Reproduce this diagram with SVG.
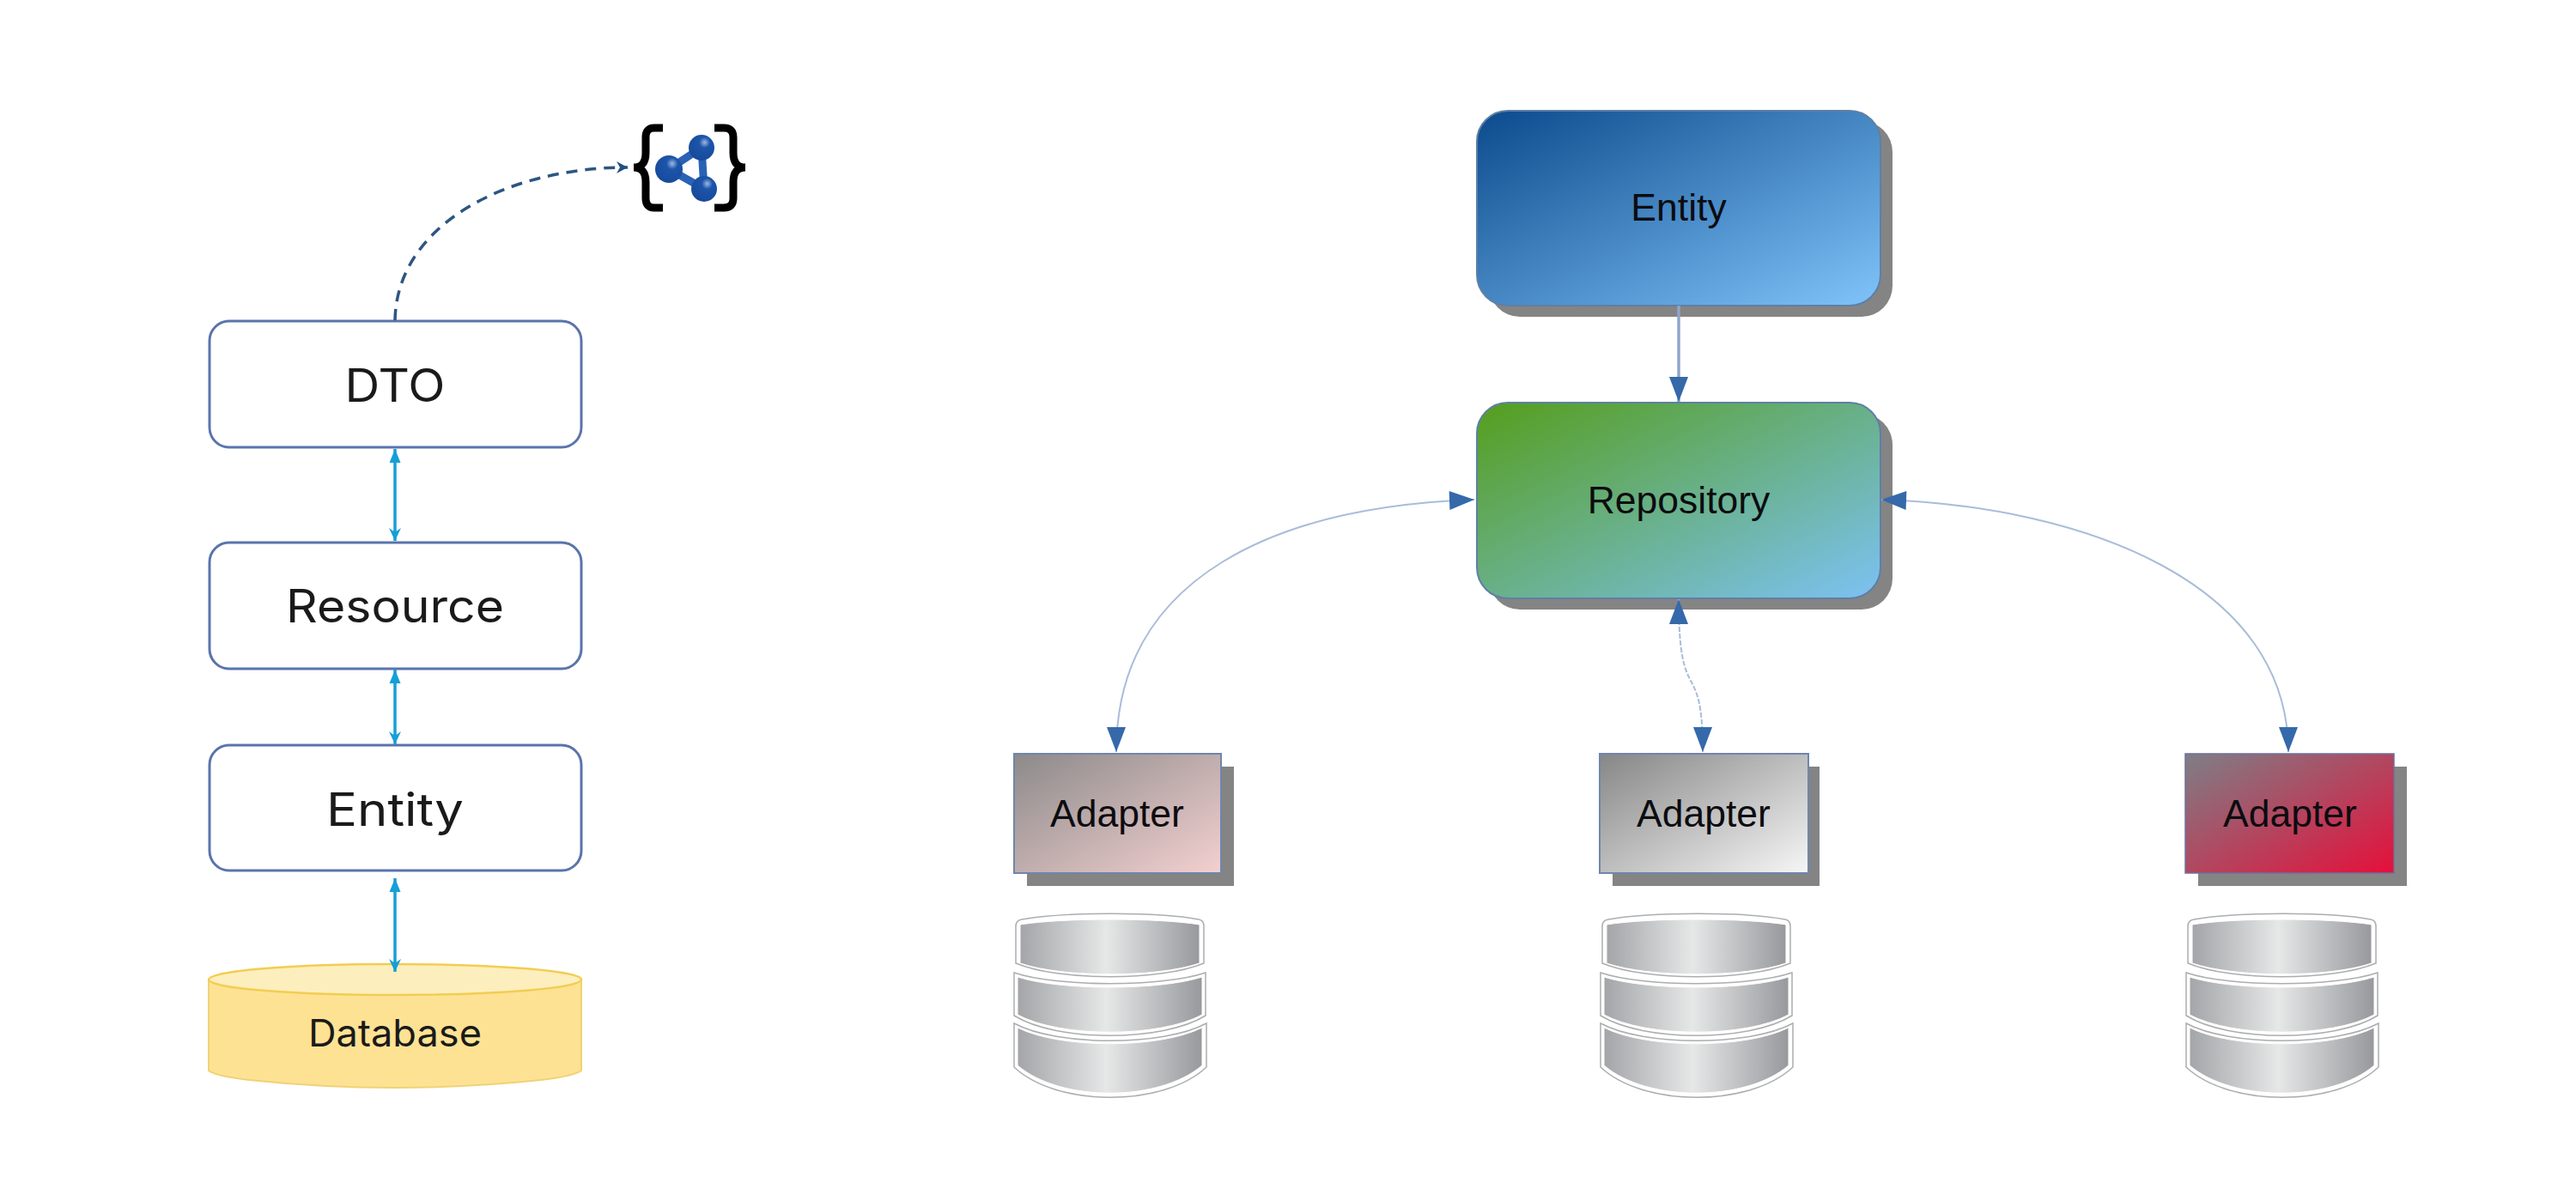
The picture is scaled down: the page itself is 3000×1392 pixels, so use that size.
<svg xmlns="http://www.w3.org/2000/svg" xmlns:xlink="http://www.w3.org/1999/xlink" width="3000" height="1392" viewBox="0 0 3000 1392">
<style>
.lb{fill:#fff;stroke:#5a74ab;stroke-width:3}
.lt{font-family:"Inter","Liberation Sans",sans-serif;font-weight:400;fill:#1a1a1a;text-anchor:middle}
.rt{font-family:"Liberation Sans",Arial,sans-serif;font-size:44.5px;fill:#0c0c10;text-anchor:middle}
.sh{fill:#848484}
.bs{stroke:#5f7fa5;stroke-width:2}
.cy{fill:none;stroke:#169fd6;stroke-width:3.5}
.bl{fill:none;stroke:#a9bdd8;stroke-width:2}
.bt{fill:none;stroke:#8fa6c9;stroke-width:3.5}
.mo{fill:#fff;stroke:#adadad;stroke-width:1.5}
.mi{stroke:#fff;stroke-width:1}
</style>
<defs>
<linearGradient id="gE" x1="0" y1="0" x2="1" y2="1"><stop offset="0" stop-color="#0b4a8c"/><stop offset="1" stop-color="#80c4fa"/></linearGradient>
<linearGradient id="gR" x1="0" y1="0" x2="1" y2="1"><stop offset="0" stop-color="#559e1c"/><stop offset="1" stop-color="#7cc2f4"/></linearGradient>
<linearGradient id="gA1" x1="0" y1="0" x2="1" y2="1"><stop offset="0" stop-color="#8c8a8a"/><stop offset="1" stop-color="#f4d0d0"/></linearGradient>
<linearGradient id="gA2" x1="0" y1="0" x2="1" y2="1"><stop offset="0" stop-color="#868686"/><stop offset="1" stop-color="#f6f6f6"/></linearGradient>
<linearGradient id="gA3" x1="0" y1="0" x2="1" y2="1"><stop offset="0" stop-color="#7d7f86"/><stop offset="1" stop-color="#e60f3a"/></linearGradient>
<linearGradient id="gD" x1="0" y1="0" x2="1" y2="0"><stop offset="0" stop-color="#a4a5a8"/><stop offset="0.48" stop-color="#e6e7e7"/><stop offset="1" stop-color="#98999d"/></linearGradient>
<radialGradient id="gB" cx="0.62" cy="0.3" r="0.7"><stop offset="0" stop-color="#9db8e2"/><stop offset="0.3" stop-color="#1c55aa"/><stop offset="1" stop-color="#174a9c"/></radialGradient>
<marker id="cS" markerUnits="userSpaceOnUse" markerWidth="20" markerHeight="16" refX="19" refY="8" orient="auto-start-reverse" viewBox="0 0 20 16"><path d="M19 8 L3 1.5 L3 14.5 Z" fill="#169fd6"/></marker>
<marker id="cE" markerUnits="userSpaceOnUse" markerWidth="20" markerHeight="16" refX="19" refY="8" orient="auto" viewBox="0 0 20 16"><path d="M19 8 L4 1 L9 8 L4 15 Z" fill="#169fd6"/></marker>
<marker id="bh" markerUnits="userSpaceOnUse" markerWidth="32" markerHeight="24" refX="30" refY="12" orient="auto-start-reverse" viewBox="0 0 32 24"><path d="M30 12 L1 1 L1 23 Z" fill="#3569aa"/></marker>
<marker id="da" markerUnits="userSpaceOnUse" markerWidth="18" markerHeight="18" refX="15" refY="9" orient="auto" viewBox="0 0 18 18"><path d="M2 2 L15 9 L2 16 L6 9 Z" fill="#24507f"/></marker>
<g id="stack">
<path class="mo" d="M1190 1071 C1240 1062 1350 1062 1396 1071 Q1402 1072 1402 1079 V1122 C1352 1143 1233 1143 1183 1122 V1079 Q1183 1072 1190 1071 Z"/>
<path class="mi" fill="url(#gD)" d="M1188 1077 C1238 1069 1347 1069 1397 1077 V1122 C1347 1139 1238 1139 1188 1122 Z"/>
<path class="mo" d="M1181 1133 C1231 1150 1354 1150 1404 1133 V1183 C1354 1214 1231 1214 1181 1183 Z"/>
<path class="mi" fill="url(#gD)" d="M1185 1138 C1235 1154 1350 1154 1400 1138 V1182 C1350 1209 1235 1209 1185 1182 Z"/>
<path class="mo" d="M1181 1192 C1231 1219 1355 1219 1405 1192 V1243 C1355 1290 1231 1290 1181 1243 Z"/>
<path class="mi" fill="url(#gD)" d="M1185 1197 C1235 1222 1350 1222 1400 1197 V1241 C1350 1284 1235 1284 1185 1241 Z"/>
</g>
</defs>
<rect width="3000" height="1392" fill="#fff"/>

<g id="dto"><rect class="lb" x="244" y="374" width="433" height="147" rx="23"/><text class="lt" x="460" y="468" font-size="53" textLength="117" lengthAdjust="spacingAndGlyphs">DTO</text></g>
<g id="resource"><rect class="lb" x="244" y="632" width="433" height="147" rx="23"/><text class="lt" x="460" y="725" font-size="53" textLength="254" lengthAdjust="spacingAndGlyphs">Resource</text></g>
<g id="entity-left"><rect class="lb" x="244" y="868" width="433" height="146" rx="23"/><text class="lt" x="460" y="962" font-size="53" textLength="160" lengthAdjust="spacingAndGlyphs">Entity</text></g>
<g id="database">
<path d="M243 1141 V1247 Q250 1253 290 1258 Q460 1276 630 1258 Q670 1253 677 1247 V1141 Z" fill="#fee294" stroke="#f0d277" stroke-width="2"/>
<ellipse cx="460" cy="1141" rx="217" ry="18" fill="#fdeebd" stroke="#f2cd52" stroke-width="2.5"/>
<text class="lt" x="460" y="1219" font-size="44" textLength="202" lengthAdjust="spacingAndGlyphs">Database</text>
</g>
<g id="graphql-icon">
<path d="M772 149 H762 Q752 149 752 160 V178 Q752 195 738 195 Q752 195 752 212 V231 Q752 242 762 242 H772" fill="none" stroke="#000" stroke-width="9"/>
<path d="M832 149 H843 Q854 149 854 160 V178 Q854 195 868 195 Q854 195 854 212 V231 Q854 242 843 242 H832" fill="none" stroke="#000" stroke-width="9"/>
<path d="M817 172 L779 197 L820 220 Z" fill="none" stroke="#2a62b5" stroke-width="9"/>
<circle cx="817" cy="172" r="15" fill="url(#gB)"/>
<circle cx="779" cy="197" r="16" fill="url(#gB)"/>
<circle cx="820" cy="220" r="15" fill="url(#gB)"/>
</g>

<g id="entity-right">
<rect class="sh" x="1734" y="141" width="470" height="228" rx="36"/>
<rect class="bs" x="1720" y="129" width="470" height="227" rx="36" fill="url(#gE)"/>
<text class="rt" x="1955" y="257">Entity</text>
</g>
<g id="repository">
<rect class="sh" x="1734" y="482" width="470" height="228" rx="36"/>
<rect class="bs" x="1720" y="469" width="470" height="228" rx="36" fill="url(#gR)"/>
<text class="rt" x="1955" y="598">Repository</text>
</g>
<g id="adapter-1">
<rect class="sh" x="1196" y="893" width="241" height="139"/>
<rect x="1181" y="878" width="241" height="139" fill="url(#gA1)" stroke="#6f86ab" stroke-width="2"/>
<text class="rt" x="1301" y="963">Adapter</text>
</g>
<g id="adapter-2">
<rect class="sh" x="1878" y="893" width="241" height="139"/>
<rect x="1863" y="878" width="243" height="139" fill="url(#gA2)" stroke="#6f86ab" stroke-width="2"/>
<text class="rt" x="1984" y="963">Adapter</text>
</g>
<g id="adapter-3">
<rect class="sh" x="2560" y="893" width="243" height="139"/>
<rect x="2545" y="878" width="243" height="139" fill="url(#gA3)" stroke="#6f6f9b" stroke-width="1.5"/>
<text class="rt" x="2667" y="963">Adapter</text>
</g>
<g id="db-1"><use xlink:href="#stack" href="#stack"/></g>
<g id="db-2"><use xlink:href="#stack" href="#stack" x="683"/></g>
<g id="db-3"><use xlink:href="#stack" href="#stack" x="1365"/></g>

<g id="connectors">
<path class="cy" d="M460 523 V630" marker-start="url(#cS)" marker-end="url(#cE)"/>
<path class="cy" d="M460 780 V867" marker-start="url(#cS)" marker-end="url(#cE)"/>
<path class="cy" d="M460 1023 V1132" marker-start="url(#cS)" marker-end="url(#cE)"/>
<path d="M460 373 C462 262 590 195 731 195" fill="none" stroke="#2d5680" stroke-width="3.5" stroke-dasharray="13 9" marker-end="url(#da)"/>
<path class="bt" d="M1955 356 V468" marker-end="url(#bh)"/>
<path class="bl" d="M1717 582 C1490 590 1300 670 1300 876" marker-start="url(#bh)" marker-end="url(#bh)"/>
<path class="bl" d="M2191 582 C2430 590 2665 680 2665 876" marker-start="url(#bh)" marker-end="url(#bh)"/>
<path class="bl" d="M1955 698 C1955 830 1983 760 1983 876" stroke-dasharray="6 2" marker-start="url(#bh)" marker-end="url(#bh)"/>
</g>
</svg>
